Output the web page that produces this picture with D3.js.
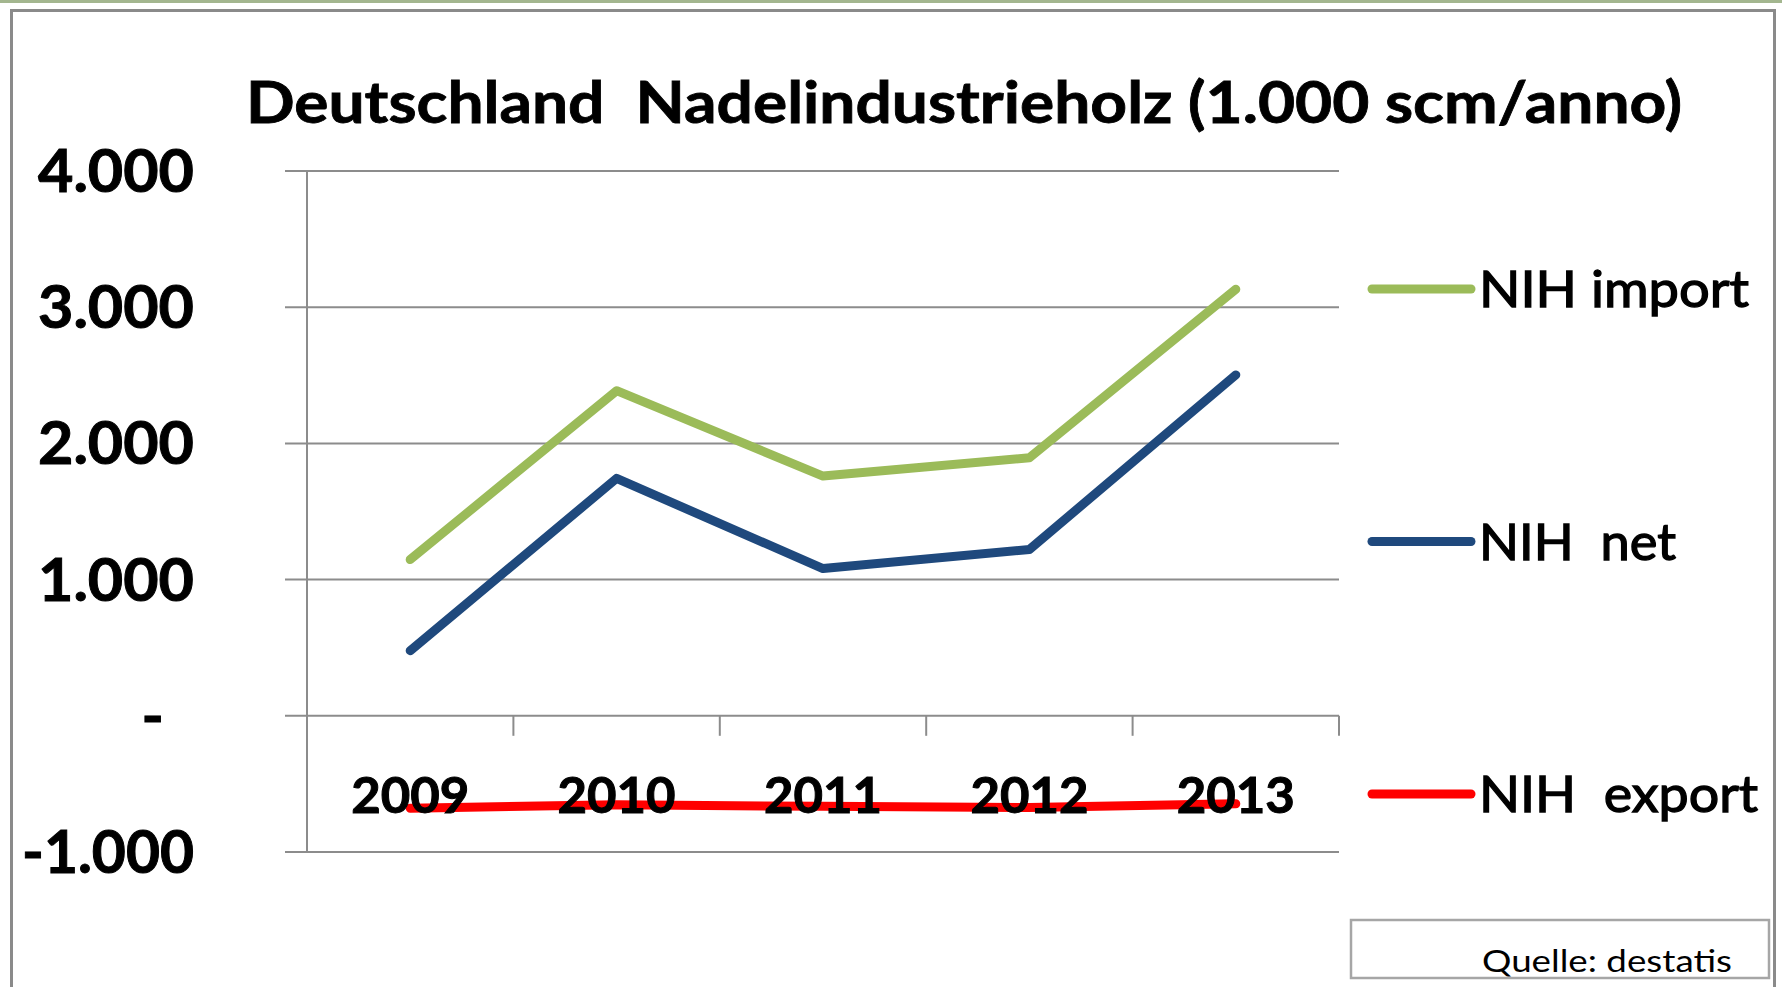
<!DOCTYPE html>
<html>
<head>
<meta charset="utf-8">
<script src="https://cdn.jsdelivr.net/npm/d3@7"></script>
<style>
  html, body { margin: 0; padding: 0; background: #fff; }
  svg { display: block; }
  text { font-family: Lato, "Liberation Sans", sans-serif; white-space: pre; }
</style>
</head>
<body>
<div id="chart"></div>
<script>
// data
const years = ['2009', '2010', '2011', '2012', '2013'];
const nihImport = [1147, 2387, 1760, 1895, 3132];
const nihNet = [478, 1743, 1081, 1221, 2503];
const nihExport = [-678, -653, -665, -673, -646];
const seriesNames = ['NIH import', 'NIH  net', 'NIH  export'];
const yTicks = [-1000, 0, 1000, 2000, 3000, 4000];
const yTickLabels = ['-1.000', '-', '1.000', '2.000', '3.000', '4.000'];
const titleText = 'Deutschland  Nadelindustrieholz (1.000 scm/anno)';
const sourceText = 'Quelle: destatis';

const width = 1782;
const height = 987;
const colors = ['#9bbb59', '#1f497d', '#ff0000'];

const svg = d3.select('#chart')
  .append('svg')
  .attr('width', width)
  .attr('height', height);

// squeeze a text to the width it has in the picture
const fit = (sel, w) => sel.attr('textLength', w).attr('lengthAdjust', 'spacingAndGlyphs');

// frame
svg.append('rect')
  .attr('x', 0).attr('y', 0)
  .attr('width', width).attr('height', 3)
  .attr('fill', '#a3b68f');
svg.append('rect')
  .attr('x', 11.5).attr('y', 10.5)
  .attr('width', 1763).attr('height', 1100)
  .attr('fill', 'none')
  .attr('stroke', '#8a8a8a')
  .attr('stroke-width', 3);

// scales
const x = d3.scaleBand()
  .domain(years)
  .range([307, 1339])
  .padding(0);

const y = d3.scaleLinear()
  .domain([-1000, 4000])
  .range([852, 171]);

// gridlines (with the small tick stubs left of the axis)
svg.append('g')
  .selectAll('line')
  .data(yTicks)
  .enter()
  .append('line')
  .attr('x1', 285)
  .attr('x2', 1339)
  .attr('y1', d => y(d))
  .attr('y2', d => y(d))
  .attr('stroke', '#8c8c8c')
  .attr('stroke-width', 2);

// value axis line
svg.append('line')
  .attr('x1', 307).attr('x2', 307)
  .attr('y1', y(4000)).attr('y2', y(-1000))
  .attr('stroke', '#8c8c8c')
  .attr('stroke-width', 2);

// category axis ticks
svg.append('g')
  .attr('transform', `translate(0, ${y(0)})`)
  .call(d3.axisBottom(x).tickSize(20).tickFormat('').tickSizeOuter(0))
  .call(g => g.select('.domain').remove())
  .call(g => g.selectAll('.tick').attr('transform', d => `translate(${x(d) + x.bandwidth()}, 0)`))
  .call(g => g.selectAll('.tick line').attr('stroke', '#8c8c8c').attr('stroke-width', 2));

// y labels
svg.append('g')
  .selectAll('text')
  .data(yTicks)
  .enter()
  .append('text')
  .attr('x', d => d === 0 ? 164 : 194)
  .attr('y', d => y(d) + 21)
  .attr('text-anchor', 'end')
  .attr('font-size', 60)
  .attr('font-weight', 'bold')
  .attr('fill', '#000')
  .attr('stroke', '#000')
  .attr('stroke-width', 1)
  .text((d, i) => yTickLabels[i])
  .each(function (d, i) { if (d !== 0) fit(d3.select(this), i === 0 ? 172 : 156); });

// lines
const line = d3.line()
  .x((d, i) => x(years[i]) + x.bandwidth() / 2)
  .y(d => y(d));

[nihImport, nihNet, nihExport].forEach((s, i) => {
  svg.append('path')
    .datum(s)
    .attr('d', line)
    .attr('fill', 'none')
    .attr('stroke', colors[i])
    .attr('stroke-width', 9)
    .attr('stroke-linecap', 'round')
    .attr('stroke-linejoin', 'round');
});

// category labels, on top of the export line
svg.append('g')
  .selectAll('text')
  .data(years)
  .enter()
  .append('text')
  .attr('x', d => x(d) + x.bandwidth() / 2)
  .attr('y', 813)
  .attr('text-anchor', 'middle')
  .attr('font-size', 50)
  .attr('font-weight', 'bold')
  .attr('fill', '#000')
  .attr('stroke', '#000')
  .attr('stroke-width', 1)
  .text(d => d)
  .each(function () { fit(d3.select(this), 118); });

// title
svg.append('text')
  .attr('x', 246)
  .attr('y', 123)
  .attr('font-size', 58)
  .attr('font-weight', 'bold')
  .attr('fill', '#000')
  .attr('stroke', '#000')
  .attr('stroke-width', 0.8)
  .text(titleText)
  .call(fit, 1436);

// legend
const legendWidths = [270, 197, 279];
const legend = svg.append('g')
  .selectAll('g')
  .data(seriesNames)
  .enter()
  .append('g')
  .attr('transform', (d, i) => `translate(1372, ${289 + i * 252.5})`);

legend.append('line')
  .attr('x1', 0).attr('x2', 99)
  .attr('stroke', (d, i) => colors[i])
  .attr('stroke-width', 9)
  .attr('stroke-linecap', 'round');

legend.append('text')
  .attr('x', 107)
  .attr('y', 18)
  .attr('font-size', 51)
  .attr('fill', '#000')
  .attr('stroke', '#000')
  .attr('stroke-width', 1.3)
  .text(d => d)
  .each(function (d, i) { fit(d3.select(this), legendWidths[i]); });

// source box
svg.append('rect')
  .attr('x', 1351).attr('y', 920)
  .attr('width', 418).attr('height', 58)
  .attr('fill', '#fff')
  .attr('stroke', '#a6a6a6')
  .attr('stroke-width', 2.5);

svg.append('text')
  .attr('x', 1482)
  .attr('y', 972)
  .attr('font-size', 31)
  .attr('fill', '#000')
  .text(sourceText)
  .call(fit, 250);
</script>
</body>
</html>
